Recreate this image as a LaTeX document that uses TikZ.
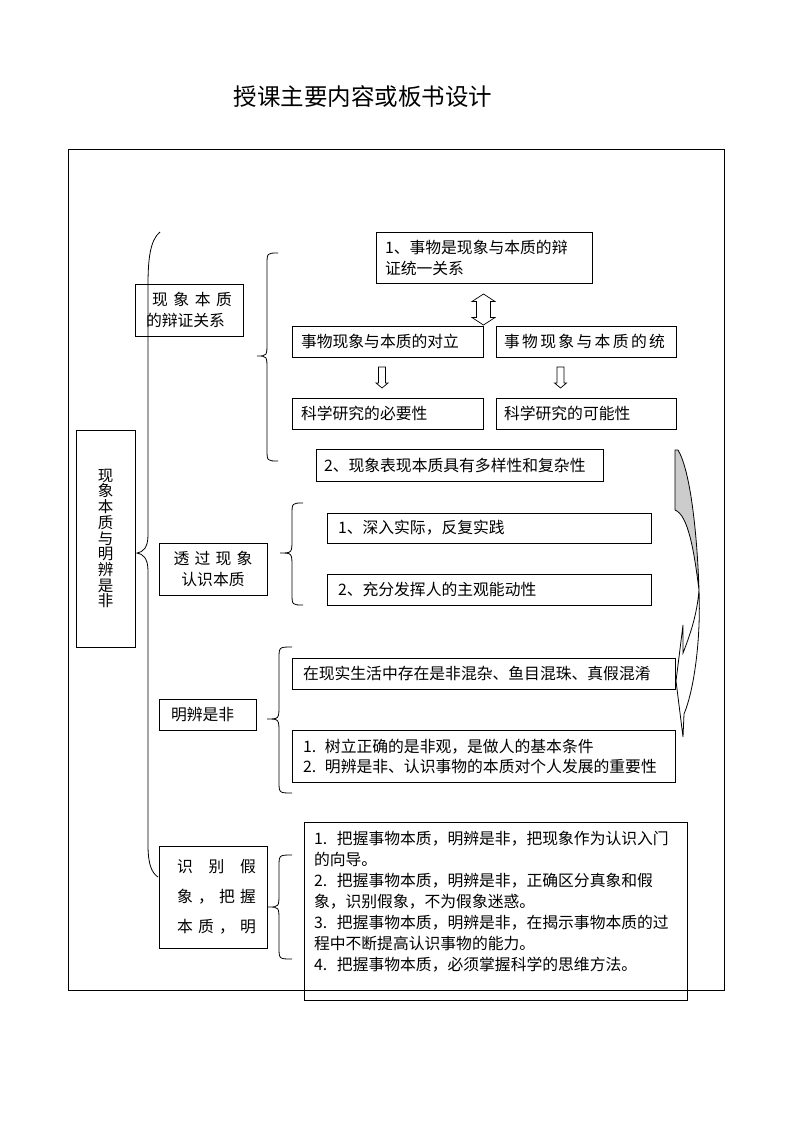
\documentclass[tikz,border=0pt]{standalone}
\usepackage{fontspec}
\setmainfont{Noto Sans CJK SC}
\usetikzlibrary{calc}

% left curly brace: end x, bar x, tip x, top y, mid y, bottom y
\newcommand{\bracedraw}[6]{%
\draw[brc] (#1,#4) .. controls (#2,#4) .. (#2,{#4+12}) -- (#2,{#5-14}) .. controls (#2,#5) .. (#3,#5) .. controls (#2,#5) .. (#2,{#5+14}) -- (#2,{#6-12}) .. controls (#2,#6) .. (#1,#6);}

\begin{document}
\begin{tikzpicture}[x=1pt,y=-1pt]
\tikzset{box/.style={draw, line width=0.8pt, inner ysep=0pt, align=left, font=\fontsize{15.8}{21}\selectfont}}
\tikzset{brc/.style={line width=0.8pt}}
\tikzset{blockarrow/.style={draw, line width=0.7pt, fill=white}}
\useasboundingbox (0,0) rectangle (794,1123);

\node (title) at (363,97) {\fontsize{23.5}{28}\selectfont 授课主要内容或板书设计};
\draw[line width=0.8pt] (68,149) rectangle (724,990);

% root and the big brace
\node[draw, line width=0.8pt, inner sep=0pt, minimum width=59pt, minimum height=217pt, align=center, font=\fontsize{15.5}{15.7}\selectfont] (root) at (105.5,538.5) {现\\象\\本\\质\\与\\明\\辨\\是\\非};
\draw[brc] (160,232) .. controls (150,240) and (148,260) .. (148,285) -- (148,535) .. controls (148,548) and (143,552) .. (137,553) .. controls (143,554) and (148,558) .. (148,571) -- (148,845) .. controls (148,865) and (152,873) .. (158,877);

% first group
\node[box, inner xsep=11pt, text width=86pt, minimum height=52pt] (phen) at (189,310) {\hspace*{6pt}\makebox[80pt][s]{现\hfill 象\hfill 本\hfill 质}\\的辩证关系};
\bracedraw{278}{267}{257}{253}{356}{461}
\node[box, inner xsep=9pt, text width=198pt, minimum height=51pt] (unity) at (484,257.5) {1、事物是现象与本质的辩\\证统一关系};
\node[box, inner xsep=9pt, text width=173pt, minimum height=31pt] (oppose) at (387.5,341.5) {事物现象与本质的对立};
\node[box, inner xsep=8pt, text width=164pt, minimum height=31pt] (unite) at (586,341.5) {\makebox[161pt][s]{事\hfill 物\hfill 现\hfill 象\hfill 与\hfill 本\hfill 质\hfill 的\hfill 统}};
\node[box, inner xsep=9pt, text width=173pt, minimum height=31pt] (need) at (387.5,413.5) {科学研究的必要性};
\node[box, inner xsep=8pt, text width=164pt, minimum height=31pt] (able) at (586,413.5) {科学研究的可能性};
\node[box, inner xsep=8pt, text width=271pt, minimum height=32pt] (variety) at (459.5,465) {2、现象表现本质具有多样性和复杂性};

% block arrows
\coordinate (both) at (483.5,294);
\draw[blockarrow] (both) -- ++(11.5,7.5) -- ++(-4.5,0) -- ++(0,16) -- ++(4.5,0) -- ++(-11.5,7.5) -- ++(-11.5,-7.5) -- ++(4.5,0) -- ++(0,-16) -- ++(-4.5,0) -- cycle;
\coordinate (arrA) at (382,367);
\coordinate (arrB) at (560.5,367);
\draw[blockarrow] (arrA) ++(-3.5,0) -- ++(7,0) -- ++(0,16) -- ++(2.5,0) -- ++(-6,5) -- ++(-6,-5) -- ++(2.5,0) -- cycle;
\draw[blockarrow] (arrB) ++(-3.5,0) -- ++(7,0) -- ++(0,16) -- ++(2.5,0) -- ++(-6,5) -- ++(-6,-5) -- ++(2.5,0) -- cycle;

% second group
\node[box, align=center, inner xsep=11pt, text width=86pt, minimum height=52pt] (see) at (213,569) {\makebox[79pt][s]{透\hfill 过\hfill 现\hfill 象}\\认识本质};
\bracedraw{303}{292}{280}{503}{553}{605}
\node[box, inner xsep=11pt, text width=302pt, minimum height=30pt] (deep) at (489,528) {1、深入实际，反复实践};
\node[box, inner xsep=11pt, text width=302pt, minimum height=31pt] (active) at (489,589.5) {2、充分发挥人的主观能动性};

% third group
\node[box, inner xsep=12pt, text width=73pt, minimum height=31pt] (tell) at (207.5,714.5) {明辨是非};
\bracedraw{292}{279}{267}{647}{719}{793}
\node[box, inner xsep=11pt, text width=361pt, minimum height=31pt] (mixed) at (483.5,673.5) {在现实生活中存在是非混杂、鱼目混珠、真假混淆};
\node[box, inner xsep=11pt, text width=361pt, minimum height=52pt, font=\fontsize{15.8}{20}\selectfont] (why) at (483.5,756) {\makebox[22pt][l]{1.}树立正确的是非观，是做人的基本条件\\\makebox[22pt][l]{2.}明辨是非、认识事物的本质对个人发展的重要性};

% curved arrow on the right
\filldraw[fill=gray!40, line width=0.8pt] (675,450) -- (678,450) .. controls (690,470) and (697,530) .. (699,590) .. controls (694,550) and (688,515) .. (675,510) -- cycle;
\filldraw[fill=white, line width=0.8pt] (699,590) .. controls (701,640) and (694,690) .. (684,714) -- (683,737) -- (676,681) -- (683,625) -- (683,653) .. controls (690,635) and (697,615) .. (699,590) -- cycle;

% fourth group
\node[box, align=right, inner xsep=11pt, text width=86pt, minimum height=102pt, font=\fontsize{15.8}{30}\selectfont] (know) at (213,897) {\makebox[79pt][s]{识\hfill 别\hfill 假}\\\makebox[79pt][s]{象\hfill ，\hfill 把\hfill 握}\\\makebox[79pt][s]{本\hfill 质\hfill ，\hfill 明}};
\bracedraw{292}{279}{268}{855}{907}{959}
\node[box, inner xsep=10pt, text width=363pt, minimum height=178pt, font=\fontsize{15.8}{21}\selectfont] (grasp) at (495.5,911) {\makebox[23pt][l]{1.}把握事物本质，明辨是非，把现象作为认识入门\\的向导。\\\makebox[23pt][l]{2.}把握事物本质，明辨是非，正确区分真象和假\\象，识别假象，不为假象迷惑。\\\makebox[23pt][l]{3.}把握事物本质，明辨是非，在揭示事物本质的过\\程中不断提高认识事物的能力。\\\makebox[23pt][l]{4.}把握事物本质，必须掌握科学的思维方法。\\\mbox{}};

\end{tikzpicture}
\end{document}
